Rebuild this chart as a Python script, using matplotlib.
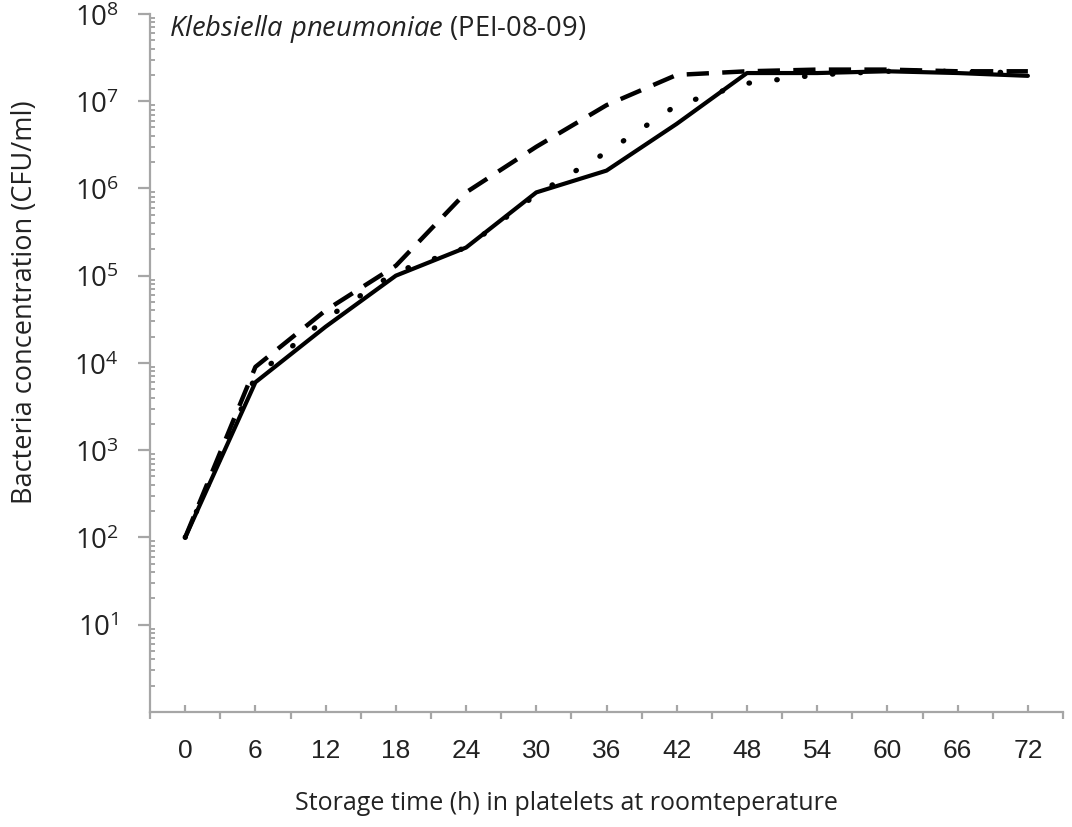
import matplotlib
matplotlib.use("Agg")
import matplotlib.pyplot as plt
import numpy as np
from matplotlib.ticker import FixedLocator, LogLocator, NullFormatter

plt.rcParams['font.family'] = ['Open Sans', 'DejaVu Sans']
plt.rcParams['mathtext.fontset'] = 'custom'
plt.rcParams['mathtext.rm'] = 'Open Sans'
plt.rcParams['mathtext.it'] = 'Open Sans:italic'

# storage time (h)
hours = [0, 6, 12, 18, 24, 30, 36, 42, 48, 54, 60, 66, 72]

# bacteria concentration (CFU/ml), three runs
solid_cfu = [1e2, 6e3, 2.6e4, 1.0e5, 2.1e5, 9.0e5, 1.6e6, 5.5e6, 2.1e7, 2.1e7, 2.2e7, 2.1e7, 1.95e7]
dashed_cfu = [1e2, 9e3, 4.0e4, 1.3e5, 9.0e5, 3.0e6, 9.0e6, 2.0e7, 2.2e7, 2.3e7, 2.3e7, 2.2e7, 2.2e7]
dotted_cfu = [1e2, 7e3, 3.2e4, 1.1e5, 2.1e5, 8.5e5, 2.6e6, 9.0e6, 1.6e7, 2.0e7, 2.2e7, 2.2e7, 2.1e7]

xticks = list(range(0, 73, 6))
decades = [10.0 ** k for k in range(1, 9)]

grey = '#a6a6a6'
ink = '#222222'

fig = plt.figure(figsize=(10.72, 8.28), dpi=100)
ax = fig.add_axes([0.140, 0.139, 0.8516, 0.843])

ax.plot(hours, dashed_cfu, color='black', lw=3.2, linestyle=(0, (5, 3)),
        dash_capstyle='butt')
ax.plot(hours, dotted_cfu, color='black', lw=3.8, linestyle=(0, (0.1, 5.2)),
        dash_capstyle='round')
ax.plot(hours, solid_cfu, color='black', lw=3.0, solid_capstyle='round')

ax.set_yscale('log')
ax.set_ylim(1, 1e8)
ax.set_xlim(-3, 75)

ax.spines['top'].set_visible(False)
ax.spines['right'].set_visible(False)
for s in ('left', 'bottom'):
    ax.spines[s].set_color(grey)
    ax.spines[s].set_linewidth(1.6)

ax.set_yticks(decades)
ax.set_yticklabels([r'$10^{%d}$' % k for k in range(1, 9)])
ax.yaxis.set_minor_locator(LogLocator(base=10, subs=np.arange(2, 10)))
ax.yaxis.set_minor_formatter(NullFormatter())
ax.tick_params(axis='y', which='major', direction='out', length=8.5, width=1.6,
               color=grey, labelsize=20, labelcolor=ink, pad=14)
ax.tick_params(axis='y', which='minor', direction='in', length=3.5, width=1.4,
               color=grey)

ax.set_xticks(xticks)
ax.set_xticklabels([str(t) for t in xticks], family='Liberation Sans')
ax.xaxis.set_minor_locator(FixedLocator(list(range(-3, 76, 6))))
ax.tick_params(axis='x', which='major', direction='in', length=5, width=1.6,
               color=grey, labelsize=19, labelcolor=ink, pad=19)
ax.tick_params(axis='x', which='minor', direction='out', length=5, width=1.6,
               color=grey)

ax.set_ylabel('Bacteria concentration (CFU/ml)', fontsize=19.5, color=ink)
ax.yaxis.set_label_coords(-0.122, 0.589)
ax.set_xlabel('Storage time (h) in platelets at roomteperature', fontsize=18,
              color=ink)
ax.xaxis.set_label_coords(0.456, -0.112)

ax.text(-1.4, 10 ** 7.84, r'$\mathit{Klebsiella\ pneumoniae}$ (PEI-08-09)',
        fontsize=19.7, color=ink, va='center', ha='left')

fig.savefig('out.png', dpi=100)
